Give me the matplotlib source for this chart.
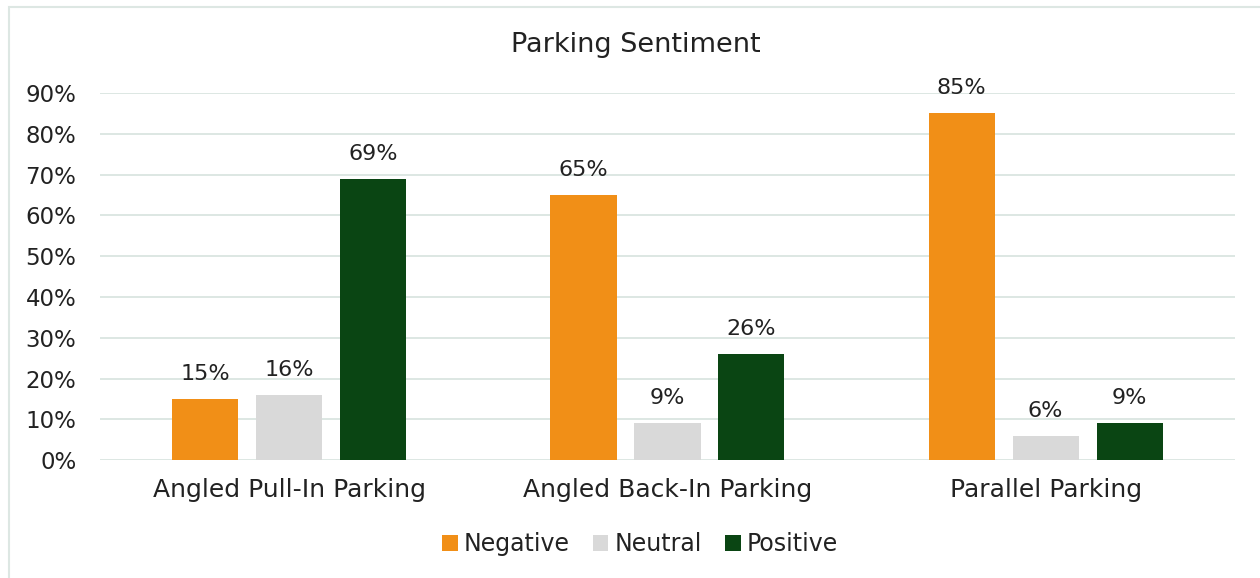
import numpy as np
import matplotlib.pyplot as plt
from matplotlib.patches import Rectangle

# Survey results per parking layout
categories = ["Angled Pull-In Parking", "Angled Back-In Parking", "Parallel Parking"]
series = ["Negative", "Neutral", "Positive"]
negative = [0.15, 0.65, 0.85]
neutral = [0.16, 0.09, 0.06]
positive = [0.69, 0.26, 0.09]

colors = ["#F18F17", "#D9D9D9", "#0A4513"]
text_color = "#222222"
grid_color = "#DDE7E3"

plt.rcParams['font.family'] = ['DejaVu Sans']

fig = plt.figure(figsize=(12.6, 5.78), dpi=100)
ax = fig.add_axes([0.0794, 0.204, 0.9006, 0.635])

x = np.arange(len(categories))
width = 0.175
step = 0.222

for i, (name, vals) in enumerate(zip(series, [negative, neutral, positive])):
    pos = x + (i - 1) * step
    bars = ax.bar(pos, vals, width, color=colors[i], label=name, zorder=3)
    for b, v in zip(bars, vals):
        ax.annotate(f"{v:.0%}", (b.get_x() + b.get_width() / 2, v),
                    xytext=(0, 18), textcoords="offset points",
                    ha="center", va="center", fontsize=16, color=text_color)

ax.set_xlim(-0.5, 2.5)
ax.set_ylim(0, 0.9)
ax.set_yticks(np.arange(0, 0.91, 0.1))
ax.set_yticklabels([f"{t:.0%}" for t in np.arange(0, 0.91, 0.1)])
ax.set_xticks(x)
ax.set_xticklabels(categories, fontsize=18)
ax.tick_params(axis="y", length=0, labelsize=16.5, colors=text_color, pad=17)
ax.tick_params(axis="x", length=0, colors=text_color, pad=13)
ax.yaxis.grid(True, color=grid_color, linewidth=1.4, zorder=0)
for s in ax.spines.values():
    s.set_visible(False)

fig.text(0.505, 0.923, "Parking Sentiment", ha="center", va="center",
         fontsize=19.5, color=text_color)

leg = fig.legend(loc="center", bbox_to_anchor=(0.508, 0.058), ncol=3,
                 frameon=False, fontsize=17, handlelength=0.65, handleheight=0.65,
                 handletextpad=0.25, columnspacing=1.0, labelcolor=text_color)

# chart frame
fig.patches.append(Rectangle((9 / 1260, -0.05), 1.1, 1.05 - 7 / 578,
                             transform=fig.transFigure, fill=False,
                             edgecolor=grid_color, linewidth=1.5))

fig.savefig("out.png", dpi=100)
